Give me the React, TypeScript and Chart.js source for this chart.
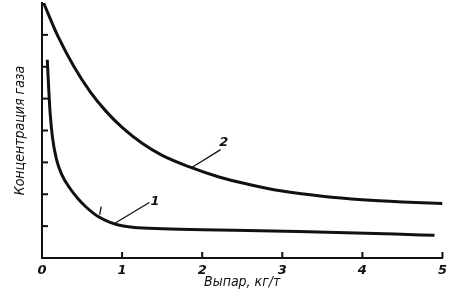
import React, { useEffect, useRef } from "react";
import { Chart, registerables } from "chart.js";

Chart.register(...registerables);

const curve1X = [0.066, 0.08, 0.1, 0.13, 0.18, 0.25, 0.35, 0.45, 0.55, 0.7, 0.85, 1.0, 1.2, 1.6, 2.0, 3.2, 4.4, 4.9];
const curve1Y = [6.22, 5.5, 4.6, 3.8, 3.1, 2.6, 2.18, 1.86, 1.6, 1.3, 1.12, 1.01, 0.95, 0.91, 0.89, 0.83, 0.75, 0.71];

const curve2X = [0.02, 0.2, 0.4, 0.6, 0.8, 1.0, 1.25, 1.5, 1.85, 2.2, 2.6, 3.0, 3.5, 4.0, 4.5, 5.0];
const curve2Y = [8.0, 6.95, 6.0, 5.22, 4.6, 4.1, 3.6, 3.22, 2.85, 2.55, 2.3, 2.1, 1.94, 1.83, 1.76, 1.71];

const xTickValues = [1, 2, 3, 4, 5];
const yTickValues = [1, 2, 3, 4, 5, 6, 7];

const xTitle = "Выпар, кг/т";
const yTitle = "Концентрация газа";

// curve labels: [text, x, y], leaders: [x1, y1, x2, y2] (data units)
const curveLabels: [string, number, number][] = [
  ["1", 1.41, 1.77],
  ["2", 2.27, 3.62],
];
const leaders: [number, number, number, number][] = [
  [0.91, 1.09, 1.34, 1.74],
  [1.87, 2.84, 2.23, 3.4],
  [0.72, 1.36, 0.74, 1.61],
];

const INK = "#111";

export default function App() {
  const ref = useRef<HTMLCanvasElement | null>(null);

  useEffect(() => {
    if (!ref.current) return;
    const decor = {
      id: "decor",
      afterDatasetsDraw(chart: any) {
        const { ctx, chartArea } = chart;
        const xs = chart.scales.x;
        const ys = chart.scales.y;
        ctx.save();
        ctx.strokeStyle = INK;
        ctx.lineWidth = 2;
        yTickValues.forEach((v) => {
          const py = ys.getPixelForValue(v);
          ctx.beginPath();
          ctx.moveTo(chartArea.left, py);
          ctx.lineTo(chartArea.left + 6, py);
          ctx.stroke();
        });
        xTickValues.forEach((v) => {
          const px = xs.getPixelForValue(v);
          ctx.beginPath();
          ctx.moveTo(px, chartArea.bottom);
          ctx.lineTo(px, chartArea.bottom - 6);
          ctx.stroke();
        });
        ctx.lineWidth = 1.3;
        leaders.forEach(([x1, y1, x2, y2]) => {
          ctx.beginPath();
          ctx.moveTo(xs.getPixelForValue(x1), ys.getPixelForValue(y1));
          ctx.lineTo(xs.getPixelForValue(x2), ys.getPixelForValue(y2));
          ctx.stroke();
        });
        ctx.fillStyle = INK;
        ctx.font = "italic bold 13px 'DejaVu Sans'";
        ctx.textAlign = "center";
        ctx.textBaseline = "middle";
        curveLabels.forEach(([t, x, y]) => {
          ctx.fillText(t, xs.getPixelForValue(x), ys.getPixelForValue(y));
        });
        ctx.restore();
      },
    };

    const chart = new Chart(ref.current, {
      type: "line",
      data: {
        datasets: [
          {
            label: "1",
            data: curve1X.map((x, i) => ({ x, y: curve1Y[i] })),
            borderColor: INK,
            borderWidth: 3,
            pointRadius: 0,
            cubicInterpolationMode: "monotone",
            fill: false,
          },
          {
            label: "2",
            data: curve2X.map((x, i) => ({ x, y: curve2Y[i] })),
            borderColor: INK,
            borderWidth: 3,
            pointRadius: 0,
            cubicInterpolationMode: "monotone",
            fill: false,
          },
        ],
      },
      options: {
        responsive: false,
        animation: false,
        layout: { padding: { top: 3, right: 7, bottom: 0, left: 0 } },
        plugins: { legend: { display: false }, tooltip: { enabled: false } },
        scales: {
          x: {
            type: "linear",
            min: 0,
            max: 5,
            afterFit: (s: any) => {
              s.height = 39;
            },
            grid: { display: false, drawTicks: false },
            border: { display: true, color: INK, width: 2 },
            ticks: {
              stepSize: 1,
              color: INK,
              padding: 5,
              font: { family: "'DejaVu Sans'", size: 13, style: "italic", weight: "bold" },
              maxRotation: 0,
            },
            title: {
              display: true,
              text: xTitle,
              color: INK,
              font: { family: "'DejaVu Sans Condensed', 'DejaVu Sans'", size: 14, style: "italic" },
              padding: { top: 0, bottom: 6 },
            },
          },
          y: {
            type: "linear",
            min: 0,
            max: 8,
            afterFit: (s: any) => {
              s.width = 42;
            },
            grid: { display: false, drawTicks: false },
            border: { display: true, color: INK, width: 2 },
            ticks: { display: false, stepSize: 1 },
            title: {
              display: true,
              text: yTitle,
              color: INK,
              font: { family: "'DejaVu Sans Condensed', 'DejaVu Sans'", size: 14, style: "italic" },
              padding: { top: 12, bottom: 0 },
            },
          },
        },
      },
      plugins: [decor],
    } as any);
    return () => chart.destroy();
  }, []);

  return (
    <div style={{ position: "absolute", left: 0, top: 0, width: 452, height: 297, background: "#fff" }}>
      <canvas ref={ref} width={452} height={297} style={{ display: "block" }} />
    </div>
  );
}
